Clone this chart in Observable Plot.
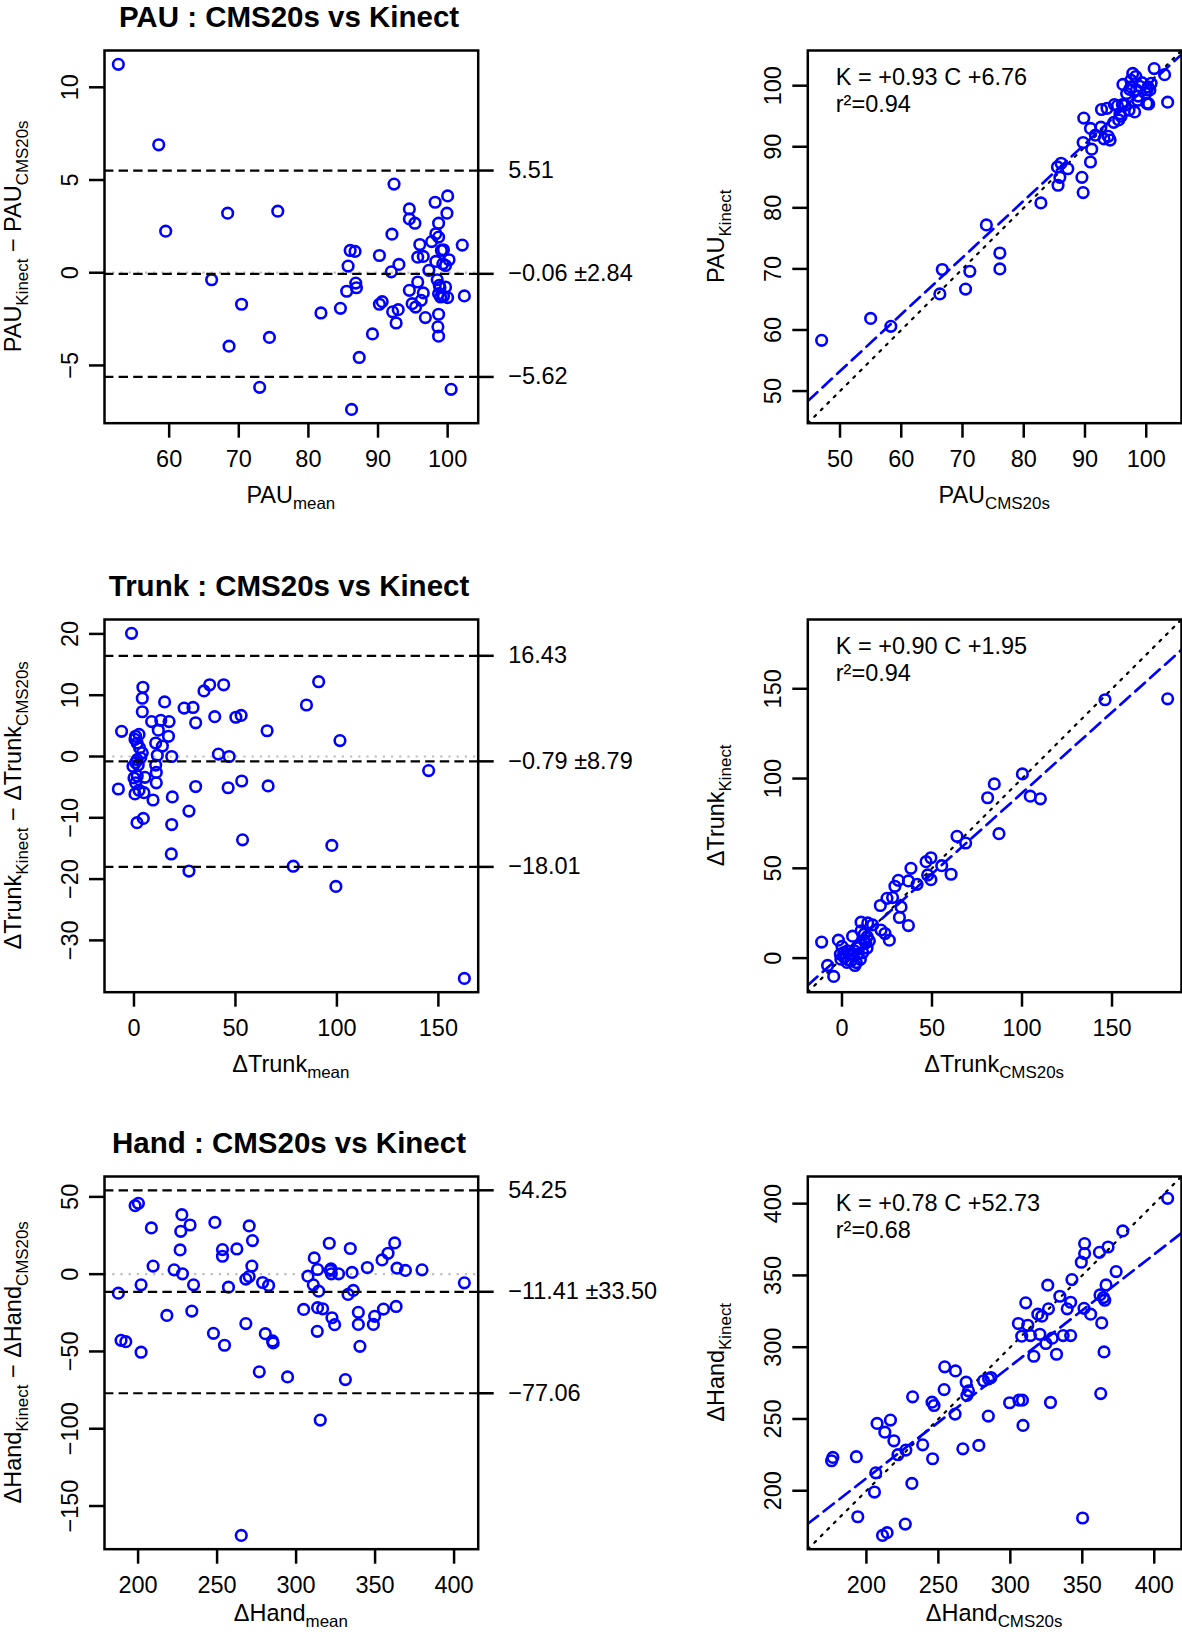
<!DOCTYPE html>
<html><head><meta charset="utf-8">
<script src="https://cdn.jsdelivr.net/npm/d3@7"></script>
<script src="https://cdn.jsdelivr.net/npm/@observablehq/plot@0.6"></script>
<style>
body{margin:0;background:#fff;}
#wrap{position:relative;width:1182px;height:1632px;overflow:hidden;background:#fff;}
#wrap svg{position:absolute;overflow:visible;background:transparent;max-width:none;}
</style></head><body><div id="wrap"></div>
<script>
// ---------------- DATA ----------------
// PAU : Bland-Altman (mean, Kinect - CMS20s)
const pauMean = [52.7,58.5,59.5,68.4,75.6,66.1,70.4,68.6,74.4,73.0,86.2,87.3,81.8,84.6,85.5,85.7,86.0,86.7,86.8,86.9,89.2,90.2,90.2,90.6,92.0,91.9,93.0,92.3,92.1,92.9,92.6,94.5,94.5,95.3,94.5,94.9,95.4,95.7,96.0,95.7,96.5,96.2,96.5,96.8,97.3,97.7,98.2,98.7,98.3,98.7,98.3,98.5,98.8,98.7,98.7,98.6,98.7,100.0,99.9,99.4,99.3,99.7,100.2,99.7,99.4,100.0,99.0,102.1,102.4,100.5,99.1,98.9];
const pauDiff = [11.24,6.9,2.24,3.21,3.32,-0.38,-1.70,-3.96,-3.49,-6.18,-7.37,-4.57,-2.17,-1.92,-1.0,0.36,1.2,1.15,-0.56,-0.81,-3.3,0.93,-1.70,-1.56,2.08,0.05,0.45,4.78,-2.11,-1.99,-2.71,3.44,2.9,2.67,-0.95,-1.67,-1.85,-0.5,1.52,0.84,0.88,-1.49,-1.09,-2.42,0.13,1.68,3.80,2.67,2.1,1.92,0.61,-0.38,-0.68,-1.13,-2.24,-2.92,-3.42,4.14,3.21,1.24,0.48,0.39,0.70,-0.77,-1.27,-1.34,-1.31,1.49,-1.25,-6.29,1.2,-0.8];
// PAU : CMS20s vs Kinect
const pauCms = [47.0,55.0,58.3,66.3,66.7,70.5,71.2,73.9,76.1,76.1,82.8,85.5,85.6,86.1,85.9,87.2,89.5,89.7,89.7,89.8,90.9,91.1,90.9,91.7,92.6,92.7,93.1,93.6,93.8,94.1,94.7,95.3,95.5,95.9,96.2,96.5,96.8,97.5,97.8,98.1,98.4,98.9,99.3,99.9,100.3,100.6,100.8,101.3,103.0,103.5,97.5,98.6,94.8,95.7,97.2,100.3,97.3,98.7,100.1,96.1,100.1,100.4,98.3];
const pauKin = [58.3,61.9,60.6,65.9,69.9,66.7,69.6,77.2,72.6,70.0,80.8,86.7,83.7,87.3,85.0,86.4,85.0,82.5,90.7,94.7,93.0,89.6,87.5,91.9,93.2,96.1,91.3,96.3,91.7,91.1,94.0,96.7,94.4,95.0,100.2,96.8,98.7,99.8,102.0,95.7,99.3,99.9,100.5,98.7,97.1,99.3,100.4,102.8,101.8,97.3,100.9,97.6,96.9,95.4,96.0,99.8,99.4,98.3,99.3,96.9,97.1,97.0,101.5];

// Trunk : Bland-Altman
const trunkMean = [-1.2,4.4,4.1,4.1,15.1,-6.1,0.8,2.5,1.6,0.5,8.7,13.2,17.3,12.0,17.0,10.7,14.0,11.5,18.6,4.1,1.6,-0.5,2.1,10.7,11.0,5.4,1.6,0.8,11.0,-7.7,0.5,2.5,4.9,9.4,18.9,1.5,4.6,18.6,27.1,18.4,27.1,24.7,29.1,30.4,34.5,37.3,44.2,39.8,41.6,46.9,30.4,46.4,53.1,53.5,50.2,52.8,65.6,66.1,78.5,85.0,91.0,97.5,99.5,101.5,145.2,162.8,3.3,0.8,2.8,0];
const trunkDiff = [20.1,11.3,9.5,7.3,8.9,4.1,3.3,3.6,2.2,2.8,5.7,5.9,5.7,4.3,3.3,2.2,1.7,0.2,0.0,0.6,-0.5,-1.6,-1.4,-1.4,-2.6,-3.4,-3.2,-4.3,-4.3,-5.3,-6.1,-5.5,-5.9,-7.1,-6.6,-10.8,-10.1,-11.1,-8.9,-15.9,-18.7,7.9,8.0,5.5,10.7,11.7,11.7,6.5,0.4,0.0,-4.9,-5.1,-4.0,-13.6,6.4,6.7,4.2,-4.8,-17.9,8.4,12.2,-14.5,-21.2,2.6,-2.3,-36.2,-0.2,-1.0,1.4,-3.5];
// Trunk : CMS20s vs Kinect
const trunkCms = [-11.3,-8.0,-4.6,-2.0,-0.9,1.3,3.1,5.0,7.2,5.9,8.3,10.2,10.6,13.3,13.9,14.3,17.0,10.6,12.4,21.7,23.9,26.3,21.3,25.0,28.1,29.4,31.3,32.8,31.9,36.9,38.3,36.9,41.7,46.7,49.4,47.6,49.4,55.4,60.6,63.9,68.7,80.9,84.6,87.2,100.2,104.6,110.2,146.1,180.9,2.8,4.1,8.7,-0.6,6.9,12.4,15.2,1.0,3.5,6.0,9.5,11.5,14.0,8.0,0.0];
const trunkKin = [8.9,-4.1,-10.2,10.0,2.2,0.4,4.1,-1.5,-4.1,12.2,5.9,-0.7,20.0,8.5,5.6,19.6,18.5,15.2,13.3,15.6,13.7,10.0,29.3,33.3,33.7,40.0,43.3,28.5,22.6,18.1,50.0,43.0,41.1,53.7,55.9,46.3,43.7,51.5,46.7,67.8,64.1,89.3,97.0,69.3,102.6,90.2,88.7,143.9,144.4,-2.4,2.2,2.2,-0.6,4.1,9.6,9.6,3.0,-1.0,1.5,6.0,3.0,12.0,-2.5,6.5];

// Hand : Bland-Altman
const handMean = [198.1,200.2,208.4,209.5,201.9,187.5,189.2,192.2,201.9,218.2,222.8,227.7,227.0,232.9,226.6,228.1,235.1,234.0,248.6,253.4,253.4,262.5,270.3,272.4,272.0,270.3,268.2,257.2,247.7,254.7,268.2,276.7,280.5,285.1,285.5,278.8,282.6,294.6,265.3,304.8,307.5,311.5,310.9,313.6,314.3,313.6,316.8,313.4,315.3,321.0,322.1,322.3,326.9,322.7,324.4,331.2,334.3,335.4,332.9,336.2,339.4,339.4,340.4,345.1,349.7,348.9,354.4,358.2,362.4,355.3,363.3,363.9,369.2,379.7,406.5,321.6];
const handDiff = [44.3,45.8,29.9,5.2,-6.9,-12.3,-42.8,-43.7,-50.5,-26.7,2.8,38.5,27.7,31.8,15.7,0.2,-6.9,-23.9,33.5,15.9,11.6,16.3,31.2,21.7,5.2,-1.5,-3.2,-8.4,-38.3,-46.0,-32.0,-63.2,-38.5,-43.2,-44.5,-5.4,-7.3,-66.5,-169.0,-22.8,-1.3,10.5,-6.9,3.0,-11.0,-21.7,-22.4,-37.0,-94.4,20.0,3.4,0.2,0.2,-28.2,-32.7,-68.2,16.6,1.1,-13.1,-10.5,-24.7,-32.5,-46.7,4.3,-27.3,-32.5,9.2,13.5,20.2,-22.6,-20.9,3.9,2.4,2.8,-5.6,2.4];
// Hand : CMS20s vs Kinect
const handCms = [175.8,176.7,193.0,194.0,206.5,205.6,207.4,212.8,216.7,219.1,211.2,214.4,221.9,227.4,227.0,232.1,231.6,239.1,245.6,247.0,246.0,254.0,254.4,261.9,261.6,267.0,269.3,270.9,269.8,278.1,281.4,284.9,286.5,284.7,299.5,306.0,308.4,308.8,327.9,305.6,307.9,312.1,314.0,310.7,316.3,319.1,320.5,321.9,324.7,326.0,326.5,329.1,332.1,334.4,336.7,339.5,341.9,341.9,342.8,349.3,351.6,351.6,351.2,355.8,350.2,361.9,362.3,365.6,366.5,363.5,365.1,362.8,367.9,373.5,378.1,409.3,364.7];
const handKin = [220.9,223.2,223.7,181.9,212.5,199.1,246.9,240.8,249.2,234.8,168.9,170.8,225.1,228.3,176.8,265.4,205.1,232.0,261.7,259.4,222.3,270.5,286.3,283.5,253.4,229.2,275.6,269.6,266.4,231.6,276.6,278.0,278.9,252.0,261.3,263.1,263.1,245.5,261.5,316.5,307.7,315.3,308.1,330.9,293.7,323.0,309.0,321.6,302.6,343.2,326.7,306.3,295.1,335.5,308.1,326.7,331.3,308.1,347.1,359.2,365.2,372.2,327.1,323.0,181.0,366.1,336.4,332.7,343.4,316.9,296.7,267.7,369.8,352.7,381.0,403.7,334.6];

// Bland-Altman statistics (PAU, Trunk, Hand)
const baBias  = [-0.06, -0.79, -11.41];
const baSd    = [2.84, 8.79, 33.50];
const baUpper = [5.51, 16.43, 54.25];
const baLower = [-5.62, -18.01, -77.06];
// Regression K = a C + b
const fitSlope = [0.93, 0.90, 0.78];
const fitIntercept = [6.76, 1.95, 52.73];
const fitR2 = [0.94, 0.94, 0.68];

// Tick labels
const pauBaXTicks = [60,70,80,90,100], pauBaYTicks = [-5,0,5,10], pauCorrTicks = [50,60,70,80,90,100];
const trunkBaXTicks = [0,50,100,150], trunkBaYTicks = [-30,-20,-10,0,10,20], trunkCorrTicks = [0,50,100,150];
const handBaXTicks = [200,250,300,350,400], handBaYTicks = [-150,-100,-50,0,50], handCorrTicks = [200,250,300,350,400];

const names = ["PAU", "Trunk", "Hand"];
const deltas = ["", "\u0394", "\u0394"];

// ---------------- DRAWING ----------------
const FONT = '"Liberation Sans", Arial, Helvetica, sans-serif';
const FS = 23.5;
const BOX = 372.7;
const rowTop = [50, 618.5, 1176.3];
const xLabOffset = [80, 80, 72];
const wrap = document.getElementById("wrap");

const panels = [
  {mean: pauMean, diff: pauDiff, cms: pauCms, kin: pauKin, bx: pauBaXTicks, by: pauBaYTicks, ct: pauCorrTicks},
  {mean: trunkMean, diff: trunkDiff, cms: trunkCms, kin: trunkKin, bx: trunkBaXTicks, by: trunkBaYTicks, ct: trunkCorrTicks},
  {mean: handMean, diff: handDiff, cms: handCms, kin: handKin, bx: handBaXTicks, by: handBaYTicks, ct: handCorrTicks}
];

function padDomain(vals) {
  const [a, b] = d3.extent(vals);
  const p = (b - a) * 0.04;
  return [a - p, b + p];
}
const f2 = v => (v < 0 ? "\u2212" : "") + Math.abs(v).toFixed(2);
const s2 = v => (v < 0 ? "\u2212" : "+") + Math.abs(v).toFixed(2);

function addLabel(svg, parts, x, y, rotate, opts = {}) {
  const t = d3.select(svg).append("text")
    .attr("transform", `translate(${x},${y})` + (rotate ? ` rotate(${rotate})` : ""))
    .attr("text-anchor", "middle")
    .attr("font-size", opts.size || FS)
    .attr("font-weight", opts.weight || "normal")
    .attr("font-family", FONT)
    .attr("fill", "black")
    .style("white-space", "pre");
  let shifted = false;
  const SH = 6.5;
  for (const [s, sub] of parts) {
    const ts = t.append("tspan").text(s);
    if (sub) {
      ts.attr("font-size", FS * 0.72);
      if (!shifted) { ts.attr("dy", SH); shifted = true; }
    } else if (shifted) { ts.attr("dy", -SH); shifted = false; }
  }
}

function place(svg, left, top) {
  svg.style.left = left + "px";
  svg.style.top = top + "px";
  wrap.appendChild(svg);
}

const commonAxis = {tickSize: 15, fontSize: FS, strokeWidth: 2.5, label: null};

panels.forEach((p, i) => {
  const name = names[i], dl = deltas[i];
  const XLAB = xLabOffset[i];
  // ---- Bland-Altman panel ----
  {
    const W = 700, ML = 104, MR = W - 477.7, MT = 55, MB = 100;
    const data = p.mean.map((m, j) => ({m, d: p.diff[j]})).filter(o => o.d !== undefined);
    const xd = padDomain(p.mean);
    const yd = padDomain([...p.diff, baUpper[i], baLower[i]]);
    const lims = [baUpper[i], baBias[i], baLower[i]];
    const svg = Plot.plot({
      width: W, height: MT + BOX + MB,
      marginLeft: ML, marginRight: MR, marginTop: MT, marginBottom: MB,
      style: {fontFamily: FONT, background: "transparent", overflow: "visible"},
      x: {domain: xd, label: null},
      y: {domain: yd, label: null},
      marks: [
        Plot.ruleY([0], {stroke: "#bdbdbd", strokeWidth: 2.2, strokeDasharray: "2.2,6"}),
        Plot.dot(data, {x: "m", y: "d", r: 5.3, stroke: "#0000ff", strokeWidth: 2.6}),
        Plot.ruleY(lims, {stroke: "black", strokeWidth: 2.2, strokeDasharray: "9.4,5.2"}),
        Plot.frame({stroke: "black", strokeWidth: 2.5}),
        Plot.axisX(p.bx, {...commonAxis, tickPadding: 12}),
        Plot.axisY(p.by, {...commonAxis, tickPadding: 12, tickRotate: -90}),
        Plot.axisY(lims, {...commonAxis, anchor: "right", tickPadding: 15,
          tickFormat: d => d === baBias[i] ? `${f2(baBias[i])} \u00b1${baSd[i].toFixed(2)}` : f2(d)})
      ]
    });
    place(svg, 0, rowTop[i] - MT);
    const cx = ML + (W - ML - MR) / 2;
    addLabel(svg, [[`${name} : CMS20s vs Kinect`, 0]], 289, MT - 23, 0, {size: 29.5, weight: "bold"});
    addLabel(svg, [[`${dl}${name}`, 0], ["mean", 1]], cx, MT + BOX + XLAB, 0);
    addLabel(svg, [[`${dl}${name}`, 0], ["Kinect", 1], [` \u2212 ${dl}${name}`, 0], ["CMS20s", 1]], 21, MT + BOX / 2, -90);
  }
  // ---- Correlation panel ----
  {
    const LEFT = 680, W = 502, ML = 807.3 - LEFT, MR = W - (1181 - LEFT), MT = 55, MB = 100;
    const data = p.cms.map((c, j) => ({c, k: p.kin[j]})).filter(o => o.k !== undefined);
    const dom = padDomain([...p.cms, ...p.kin]);
    const idLine = dom.map(v => ({x: v, y: v}));
    const fitLine = dom.map(v => ({x: v, y: fitSlope[i] * v + fitIntercept[i]}));
    const txt = `K = ${s2(fitSlope[i])} C ${s2(fitIntercept[i])}\nr\u00b2=${fitR2[i].toFixed(2)}`;
    const svg = Plot.plot({
      width: W, height: MT + BOX + MB,
      marginLeft: ML, marginRight: MR, marginTop: MT, marginBottom: MB,
      style: {fontFamily: FONT, background: "transparent", overflow: "visible"},
      x: {domain: dom, label: null},
      y: {domain: dom, label: null},
      marks: [
        Plot.line(idLine, {x: "x", y: "y", stroke: "black", strokeWidth: 2.2, strokeDasharray: "2.2,7", clip: true}),
        Plot.line(fitLine, {x: "x", y: "y", stroke: "#0000ff", strokeWidth: 2.7, strokeDasharray: "13,7", clip: true}),
        Plot.dot(data, {x: "c", y: "k", r: 5.3, stroke: "#0000ff", strokeWidth: 2.6}),
        Plot.text([txt], {frameAnchor: "top-left", textAnchor: "start", lineAnchor: "top", dx: 28, dy: 15,
          lineHeight: 1.15, fontSize: FS, fill: "black"}),
        Plot.frame({stroke: "black", strokeWidth: 2.5}),
        Plot.axisX(p.ct, {...commonAxis, tickPadding: 12}),
        Plot.axisY(p.ct, {...commonAxis, tickPadding: 12, tickRotate: -90})
      ]
    });
    place(svg, LEFT, rowTop[i] - MT);
    const cx = ML + (W - ML - MR) / 2;
    addLabel(svg, [[`${dl}${name}`, 0], ["CMS20s", 1]], cx, MT + BOX + XLAB, 0);
    addLabel(svg, [[`${dl}${name}`, 0], ["Kinect", 1]], ML - 83, MT + BOX / 2, -90);
  }
});
</script></body></html>
